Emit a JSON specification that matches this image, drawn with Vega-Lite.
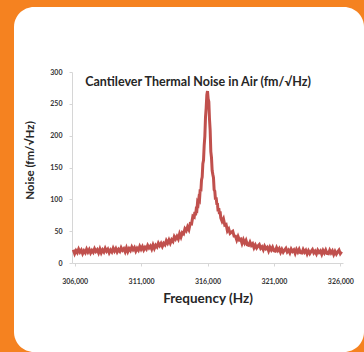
{
"$schema": "https://vega.github.io/schema/vega-lite/v6.json",
"width": 350, "height": 345,
"autosize": {"type": "none"},
"padding": {"left": 14, "top": 7, "right": 0, "bottom": 0},
"background": "#f58220",
"config": {"view": {"fill": "white", "cornerRadius": 20, "stroke": null}, "font": "Lato"},
"title": {"text": "Cantilever  Thermal Noise in Air (fm/√Hz)", "fontSize": 12.5, "font": "Lato", "fontWeight": "bold", "color": "#262626", "anchor": "middle", "frame": "group", "dx": 9, "dy": 85},
"data": {"values": [
{"f":305900,"n":20.8},{"f":306000,"n":14.8},{"f":306100,"n":19.5},{"f":306200,"n":16.3},{"f":306300,"n":21.7},{"f":306400,"n":17.2},{"f":306500,"n":20.4},{"f":306600,"n":14.8},{"f":306700,"n":19.1},{"f":306800,"n":16.0},
{"f":306900,"n":21.7},{"f":307000,"n":17.2},{"f":307100,"n":21.1},{"f":307200,"n":15.9},{"f":307300,"n":19.7},{"f":307400,"n":16.7},{"f":307500,"n":22.4},{"f":307600,"n":18.2},{"f":307700,"n":20.8},{"f":307800,"n":15.9},
{"f":307900,"n":21.9},{"f":308000,"n":16.0},{"f":308100,"n":20.7},{"f":308200,"n":17.5},{"f":308300,"n":22.9},{"f":308400,"n":18.5},{"f":308500,"n":21.7},{"f":308600,"n":16.2},{"f":308700,"n":20.4},{"f":308800,"n":17.3},
{"f":308900,"n":23.1},{"f":309000,"n":18.6},{"f":309100,"n":22.6},{"f":309200,"n":17.4},{"f":309300,"n":21.3},{"f":309400,"n":18.3},{"f":309500,"n":24.0},{"f":309600,"n":19.9},{"f":309700,"n":22.5},{"f":309800,"n":17.6},
{"f":309900,"n":23.7},{"f":310000,"n":17.8},{"f":310100,"n":22.6},{"f":310200,"n":19.6},{"f":310300,"n":25.1},{"f":310400,"n":20.8},{"f":310500,"n":24.1},{"f":310600,"n":18.7},{"f":310700,"n":23.1},{"f":310800,"n":20.1},
{"f":310900,"n":26.0},{"f":311000,"n":21.6},{"f":311100,"n":25.7},{"f":311200,"n":20.6},{"f":311300,"n":24.6},{"f":311400,"n":21.8},{"f":311500,"n":27.7},{"f":311600,"n":23.8},{"f":311700,"n":26.6},{"f":311800,"n":21.9},
{"f":311900,"n":28.3},{"f":312000,"n":22.8},{"f":312100,"n":27.9},{"f":312200,"n":25.2},{"f":312300,"n":31.1},{"f":312400,"n":27.2},{"f":312500,"n":30.9},{"f":312600,"n":26.0},{"f":312700,"n":30.9},{"f":312800,"n":28.5},
{"f":312900,"n":35.0},{"f":313000,"n":31.0},{"f":313100,"n":36.2},{"f":313200,"n":31.1},{"f":313300,"n":36.4},{"f":313400,"n":33.8},{"f":313500,"n":41.3},{"f":313600,"n":37.7},{"f":313700,"n":41.8},{"f":313800,"n":37.6},
{"f":313900,"n":45.9},{"f":314000,"n":40.7},{"f":314100,"n":47.6},{"f":314200,"n":45.8},{"f":314300,"n":53.8},{"f":314400,"n":50.8},{"f":314500,"n":56.9},{"f":314600,"n":52.5},{"f":314700,"n":62.0},{"f":314800,"n":61.5},
{"f":314900,"n":73.5},{"f":315000,"n":72.0},{"f":315050,"n":80.0},{"f":315100,"n":75.0},{"f":315150,"n":84.0},{"f":315200,"n":83.0},{"f":315250,"n":95.0},{"f":315300,"n":93.0},{"f":315350,"n":101.5},{"f":315400,"n":99.5},
{"f":315450,"n":115.8},{"f":315500,"n":112.6},{"f":315550,"n":130.4},{"f":315600,"n":135.0},{"f":315650,"n":156.0},{"f":315700,"n":161.2},{"f":315750,"n":184.6},{"f":315800,"n":199.0},{"f":315850,"n":229.2},{"f":315900,"n":243.8},
{"f":315950,"n":264.0},{"f":316000,"n":270.0},{"f":316050,"n":257.8},{"f":316100,"n":253.4},{"f":316150,"n":226.2},{"f":316200,"n":208.6},{"f":316250,"n":175.0},{"f":316300,"n":165.4},{"f":316350,"n":145.2},{"f":316400,"n":139.2},
{"f":316450,"n":134.0},{"f":316500,"n":115.0},{"f":316550,"n":112.8},{"f":316600,"n":99.5},{"f":316650,"n":103.0},{"f":316700,"n":93.0},{"f":316750,"n":92.5},{"f":316800,"n":81.0},{"f":316850,"n":86.0},{"f":316900,"n":77.0},
{"f":316950,"n":81.0},{"f":317000,"n":71.0},{"f":317100,"n":65.5},{"f":317200,"n":69.5},{"f":317300,"n":59.5},{"f":317400,"n":60.5},{"f":317500,"n":50.5},{"f":317600,"n":53.6},{"f":317700,"n":46.6},{"f":317800,"n":48.6},
{"f":317900,"n":50.0},{"f":318000,"n":42.3},{"f":318100,"n":42.2},{"f":318200,"n":36.1},{"f":318300,"n":41.6},{"f":318400,"n":36.2},{"f":318500,"n":37.5},{"f":318600,"n":30.6},{"f":318700,"n":36.5},{"f":318800,"n":31.2},
{"f":318900,"n":35.5},{"f":319000,"n":28.6},{"f":319100,"n":27.8},{"f":319200,"n":32.8},{"f":319300,"n":27.8},{"f":319400,"n":30.3},{"f":319500,"n":24.0},{"f":319600,"n":28.3},{"f":319700,"n":23.6},{"f":319800,"n":26.6},
{"f":319900,"n":28.8},{"f":320000,"n":23.0},{"f":320100,"n":25.5},{"f":320200,"n":20.8},{"f":320300,"n":26.4},{"f":320400,"n":22.5},{"f":320500,"n":24.6},{"f":320600,"n":19.0},{"f":320700,"n":24.7},{"f":320800,"n":20.5},
{"f":320900,"n":24.8},{"f":321000,"n":19.2},{"f":321100,"n":18.6},{"f":321200,"n":24.1},{"f":321300,"n":19.6},{"f":321400,"n":22.6},{"f":321500,"n":16.8},{"f":321600,"n":21.5},{"f":321700,"n":17.1},{"f":321800,"n":20.4},
{"f":321900,"n":23.0},{"f":322000,"n":17.5},{"f":322100,"n":20.3},{"f":322200,"n":15.9},{"f":322300,"n":21.8},{"f":322400,"n":18.2},{"f":322500,"n":20.6},{"f":322600,"n":15.2},{"f":322700,"n":21.1},{"f":322800,"n":17.1},
{"f":322900,"n":21.6},{"f":323000,"n":16.1},{"f":323100,"n":15.6},{"f":323200,"n":21.2},{"f":323300,"n":16.9},{"f":323400,"n":20.0},{"f":323500,"n":14.3},{"f":323600,"n":19.2},{"f":323700,"n":14.9},{"f":323800,"n":18.3},
{"f":323900,"n":21.1},{"f":324000,"n":15.7},{"f":324100,"n":18.5},{"f":324200,"n":14.2},{"f":324300,"n":20.1},{"f":324400,"n":16.6},{"f":324500,"n":19.0},{"f":324600,"n":13.7},{"f":324700,"n":19.6},{"f":324800,"n":15.7},
{"f":324900,"n":20.2},{"f":325000,"n":14.9},{"f":325100,"n":14.5},{"f":325200,"n":20.1},{"f":325300,"n":15.8},{"f":325400,"n":19.0},{"f":325500,"n":13.3},{"f":325600,"n":18.2},{"f":325700,"n":14.0},{"f":325800,"n":17.4},
{"f":325900,"n":20.2},{"f":326000,"n":14.8},{"f":326100,"n":17.7}
]},
"mark": {"type": "line", "color": "#c0504d", "strokeWidth": 3, "clip": false},
"encoding": {
  "x": {"field": "f", "type": "quantitative",
    "scale": {"domain": [305800, 326200], "range": [58, 329], "nice": false, "zero": false},
    "axis": {"values": [306000, 311000, 316000, 321000, 326000], "format": ",d", "title": "Frequency (Hz)", "offset": -89, "grid": false,
      "domainColor": "#d6d6d6", "tickColor": "#d6d6d6", "tickSize": 3, "labelFontSize": 7, "labelFont": "Lato", "labelFontWeight": "bold", "labelColor": "#333333", "labelPadding": 11,
      "titleFont": "Lato", "titleFontSize": 13.5, "titleFontWeight": "bold", "titleColor": "#262626", "titlePadding": 7}},
  "y": {"field": "n", "type": "quantitative",
    "scale": {"domain": [0, 300], "range": [256, 65], "nice": false},
    "axis": {"values": [0, 50, 100, 150, 200, 250, 300], "title": "Noise (fm/√Hz)", "offset": -58, "grid": false,
      "domainColor": "#d6d6d6", "tickColor": "#d6d6d6", "tickSize": 3, "labelFontSize": 7, "labelFont": "Lato", "labelFontWeight": "bold", "labelColor": "#333333", "labelPadding": 7,
      "titleFont": "Lato", "titleFontSize": 11.5, "titleFontWeight": "bold", "titleColor": "#262626", "titleX": -37, "titleY": 153}}
}
}
